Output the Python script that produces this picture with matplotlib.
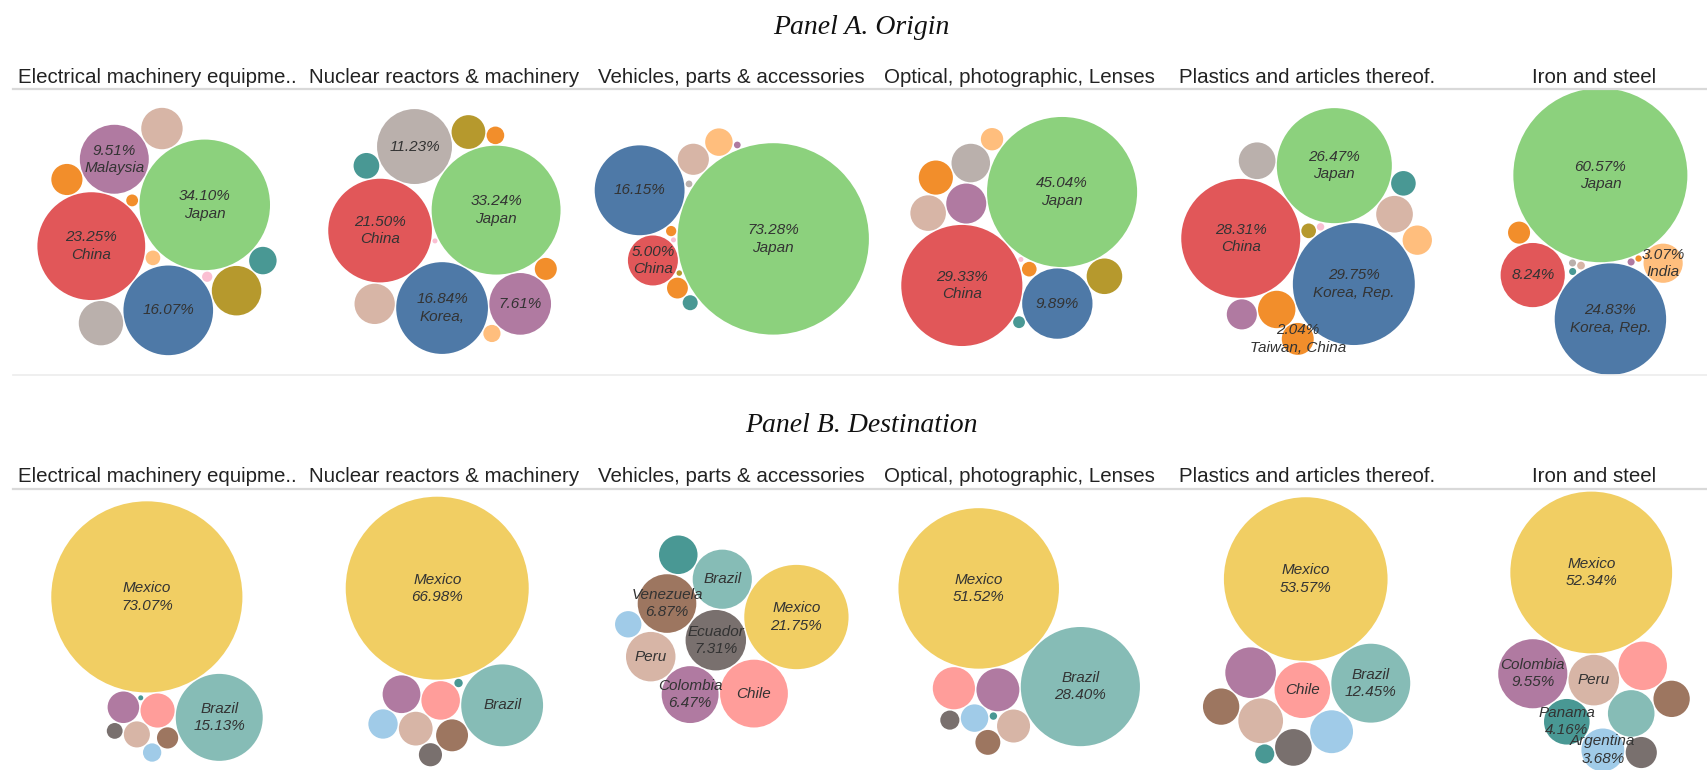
import numpy as np
import matplotlib
matplotlib.use('Agg')
import matplotlib.pyplot as plt
from matplotlib.patches import Circle

# Tableau 20 colours
PAL = {'blue': '#4E79A7', 'lblue': '#A0CBE8', 'orange': '#F28E2B', 'lorange': '#FFBE7D',
       'lgreen': '#8CD17D', 'olive': '#B6992D', 'yellow': '#F1CE63', 'teal': '#499894',
       'lteal': '#86BCB6', 'red': '#E15759', 'lred': '#FF9D9A', 'gray': '#79706E',
       'lgray': '#BAB0AC', 'lpink': '#FABFD2', 'purple': '#B07AA1', 'brown': '#9D7660',
       'lbrown': '#D7B5A6'}

categories = ['Electrical machinery equipme..', 'Nuclear reactors & machinery',
              'Vehicles, parts & accessories', 'Optical, photographic, Lenses',
              'Plastics and articles thereof.', 'Iron and steel']

# ---- Panel A: origin (share of imports, %) ----
elec_o_val = [34.10, 23.25, 16.07, 9.51, 4.9, 3.94, 3.43, 1.94, 1.51, 0.43, 0.28, 0.21]
elec_o_col = ['lgreen', 'red', 'blue', 'purple', 'olive', 'lgray', 'lbrown', 'orange', 'teal', 'lorange', 'orange', 'lpink']
elec_o_lab = ['34.10%\nJapan', '23.25%\nChina', '16.07%', '9.51%\nMalaysia', '', '', '', '', '', '', '', '']

nucl_o_val = [33.24, 21.50, 16.84, 11.23, 7.61, 3.25, 2.28, 1.32, 0.97, 0.62, 0.59, 0.05]
nucl_o_col = ['lgreen', 'red', 'blue', 'lgray', 'purple', 'lbrown', 'olive', 'teal', 'orange', 'orange', 'lorange', 'lpink']
nucl_o_lab = ['33.24%\nJapan', '21.50%\nChina', '16.84%\nKorea,', '11.23%', '7.61%', '', '', '', '', '', '', '']

vehi_o_val = [73.28, 16.15, 5.00, 1.94, 1.51, 0.87, 0.45, 0.21, 0.09, 0.09, 0.06, 0.05]
vehi_o_col = ['lgreen', 'blue', 'red', 'lbrown', 'lorange', 'orange', 'teal', 'orange', 'lgray', 'purple', 'olive', 'lpink']
vehi_o_lab = ['73.28%\nJapan', '16.15%', '5.00%\nChina', '', '', '', '', '', '', '', '', '']

opti_o_val = [45.04, 29.33, 9.89, 3.20, 2.97, 2.53, 2.53, 2.33, 1.00, 0.43, 0.28, 0.05]
opti_o_col = ['lgreen', 'red', 'blue', 'purple', 'lgray', 'olive', 'lbrown', 'orange', 'lorange', 'orange', 'teal', 'lpink']
opti_o_lab = ['45.04%\nJapan', '29.33%\nChina', '9.89%', '', '', '', '', '', '', '', '', '']

plas_o_val = [29.75, 28.31, 26.47, 2.80, 2.69, 2.69, 2.04, 1.81, 1.72, 1.21, 0.43, 0.11]
plas_o_col = ['blue', 'red', 'lgreen', 'orange', 'lbrown', 'lgray', 'orange', 'purple', 'lorange', 'teal', 'olive', 'lpink']
plas_o_lab = ['29.75%\nKorea, Rep.', '28.31%\nChina', '26.47%\nJapan', '', '', '', '2.04%\nTaiwan, China', '', '', '', '', '']

iron_o_val = [60.57, 24.83, 8.24, 3.07, 0.97, 0.12, 0.10, 0.10, 0.10, 0.08]
iron_o_col = ['lgreen', 'blue', 'red', 'lorange', 'orange', 'lbrown', 'lgray', 'purple', 'teal', 'orange']
iron_o_lab = ['60.57%\nJapan', '24.83%\nKorea, Rep.', '8.24%', '3.07%\nIndia', '', '', '', '', '', '']

# ---- Panel B: destination (share of exports, %) ----
elec_d_val = [73.07, 15.13, 2.33, 1.99, 1.36, 0.90, 0.67, 0.50, 0.05]
elec_d_col = ['yellow', 'lteal', 'lred', 'purple', 'lbrown', 'brown', 'lblue', 'gray', 'teal']
elec_d_lab = ['Mexico\n73.07%', 'Brazil\n15.13%', '', '', '', '', '', '', '']

nucl_d_val = [66.98, 13.40, 2.97, 2.85, 2.28, 2.04, 1.72, 1.07, 0.14]
nucl_d_col = ['yellow', 'lteal', 'lred', 'purple', 'lbrown', 'brown', 'lblue', 'gray', 'teal']
nucl_d_lab = ['Mexico\n66.98%', 'Brazil', '', '', '', '', '', '', '']

vehi_d_val = [21.75, 9.20, 7.31, 7.00, 6.87, 6.47, 4.90, 2.97, 1.39]
vehi_d_col = ['yellow', 'lred', 'gray', 'lteal', 'brown', 'purple', 'lbrown', 'teal', 'lblue']
vehi_d_lab = ['Mexico\n21.75%', 'Chile', 'Ecuador\n7.31%', 'Brazil', 'Venezuela\n6.87%', 'Colombia\n6.47%', 'Peru', '', '']

opti_d_val = [51.52, 28.40, 3.68, 3.56, 2.18, 1.51, 1.24, 0.73, 0.11]
opti_d_col = ['yellow', 'lteal', 'purple', 'lred', 'lbrown', 'lblue', 'brown', 'gray', 'teal']
opti_d_lab = ['Mexico\n51.52%', 'Brazil\n28.40%', '', '', '', '', '', '', '']

plas_d_val = [53.57, 12.45, 6.20, 5.12, 4.00, 3.68, 2.69, 2.64, 0.73]
plas_d_col = ['yellow', 'lteal', 'lred', 'purple', 'lbrown', 'lblue', 'gray', 'brown', 'teal']
plas_d_lab = ['Mexico\n53.57%', 'Brazil\n12.45%', 'Chile', '', '', '', '', '', '']

iron_d_val = [52.34, 9.55, 5.12, 4.69, 4.34, 4.16, 3.68, 2.64, 1.94]
iron_d_col = ['yellow', 'purple', 'lbrown', 'lred', 'lteal', 'teal', 'lblue', 'brown', 'gray']
iron_d_lab = ['Mexico\n52.34%', 'Colombia\n9.55%', 'Peru', '', '', 'Panama\n4.16%', 'Argentina\n3.68%', '', '']

origin_panels = [(elec_o_val, elec_o_col, elec_o_lab), (nucl_o_val, nucl_o_col, nucl_o_lab),
                 (vehi_o_val, vehi_o_col, vehi_o_lab), (opti_o_val, opti_o_col, opti_o_lab),
                 (plas_o_val, plas_o_col, plas_o_lab), (iron_o_val, iron_o_col, iron_o_lab)]
dest_panels = [(elec_d_val, elec_d_col, elec_d_lab), (nucl_d_val, nucl_d_col, nucl_d_lab),
               (vehi_d_val, vehi_d_col, vehi_d_lab), (opti_d_val, opti_d_col, opti_d_lab),
               (plas_d_val, plas_d_col, plas_d_lab), (iron_d_val, iron_d_col, iron_d_lab)]

# orientation of each pane's packing: direction (deg, screen) from the biggest
# bubble to the second one, and on which side the third one sits
orient_o = [(160, -1), (170, -1), (200, -1), (137, -1), (202, 1), (86, 1)]
orient_d = [(59, 1), (61, 1), (119, 1), (44, 1), (58, 1), (120, -1)]

W, H = 1707, 770
SCALE = 11.18          # bubble radius in px per sqrt(percent), shared by all panes
COL_X0, COL_W = 157, 287.4
GAP = 1.5


def tangent_points(p1, d1, p2, d2):
    v = p2 - p1
    L = np.hypot(*v)
    if L == 0 or L > d1 + d2 or L < abs(d1 - d2):
        return []
    a = (d1 ** 2 - d2 ** 2 + L ** 2) / (2 * L)
    h = np.sqrt(max(d1 ** 2 - a ** 2, 0.0))
    m = p1 + a * v / L
    perp = np.array([-v[1], v[0]]) / L
    return [m + h * perp, m - h * perp]


def pack(radii, angle, side, wpow):
    # greedy packing: biggest first, each next bubble goes to the free
    # tangent spot closest to the (r**wpow weighted) centre of what is placed
    radii = np.asarray(radii, dtype=float)
    order = np.argsort(-radii, kind='stable')
    pos = np.zeros((len(radii), 2))
    placed = []
    for k, i in enumerate(order):
        r = radii[i]
        if k == 1:
            j = placed[0]
            t = np.radians(angle)
            pos[i] = pos[j] + (radii[j] + r + GAP) * np.array([np.cos(t), np.sin(t)])
        elif k > 1:
            w = radii[placed] ** wpow
            c = (pos[placed] * w[:, None]).sum(0) / w.sum()
            best = None
            for a in range(len(placed)):
                for b in range(a + 1, len(placed)):
                    ja, jb = placed[a], placed[b]
                    for p in tangent_points(pos[ja], radii[ja] + r + GAP, pos[jb], radii[jb] + r + GAP):
                        ok = all(np.hypot(*(p - pos[j])) >= radii[j] + r + GAP - 1e-6 for j in placed)
                        if ok:
                            dd = np.hypot(*(p - c))
                            if best is None or dd < best[0]:
                                best = (dd, p)
            pos[i] = best[1]
        placed.append(i)
    # mirror if the third bubble is on the wrong side of the first->second axis
    if len(order) > 2:
        u = pos[order[1]] - pos[order[0]]
        v = pos[order[2]] - pos[order[0]]
        if np.sign(u[0] * v[1] - u[1] * v[0]) != side:
            u = u / np.hypot(*u)
            rel = pos - pos[order[0]]
            pos = pos[order[0]] + 2 * (rel @ u)[:, None] * u[None, :] - rel
    return pos


fig = plt.figure(figsize=(W / 100, H / 100), dpi=100)
ax = fig.add_axes([0, 0, 1, 1])
ax.set_xlim(0, W)
ax.set_ylim(H, 0)
ax.axis('off')

SANS = ['Liberation Sans', 'DejaVu Sans']


def draw_row(panels, orients, wpow, title, title_y, head_y, line_y, box_top, box_h, bottom_line=None):
    ax.text(861, title_y, title, family='Liberation Serif', style='italic', fontsize=20,
            ha='center', va='center', color='#111')
    for k, (name, (vals, cols, labs), (ang, side)) in enumerate(zip(categories, panels, orients)):
        cx = COL_X0 + COL_W * k
        ax.text(cx, head_y, name, family=SANS, fontsize=14.8, ha='center', va='baseline', color='#222')
        radii = SCALE * np.sqrt(vals)
        pos = pack(radii, ang, side, wpow)
        x0, x1 = (pos[:, 0] - radii).min(), (pos[:, 0] + radii).max()
        y0, y1 = (pos[:, 1] - radii).min(), (pos[:, 1] + radii).max()
        shift_x = cx - (x0 + x1) / 2
        # keep the last pane inside the picture
        shift_x = min(shift_x, W - 8 - x1)
        pos = pos + np.array([shift_x, box_top + box_h / 2 - (y0 + y1) / 2])
        for (x, y), r, c, lab in zip(pos, radii, cols, labs):
            ax.add_patch(Circle((x, y), r, facecolor=PAL[c], edgecolor='none'))
            if lab:
                ax.text(x, y, lab, family=SANS, style='italic', fontsize=11, ha='center',
                        va='center', color='#333', linespacing=1.3)
    ax.plot([13, W], [line_y, line_y], color='#d9d9d9', lw=1.6)
    if bottom_line is not None:
        ax.plot([13, W], [bottom_line, bottom_line], color='#ececec', lw=1.2)


draw_row(origin_panels, orient_o, 2, 'Panel A. Origin', 27.5, 83, 88.5, 89, 285, bottom_line=375)
draw_row(dest_panels, orient_d, 0, 'Panel B. Destination', 425.5, 482, 488.5, 489, 285)

fig.savefig('out.png', dpi=100)
